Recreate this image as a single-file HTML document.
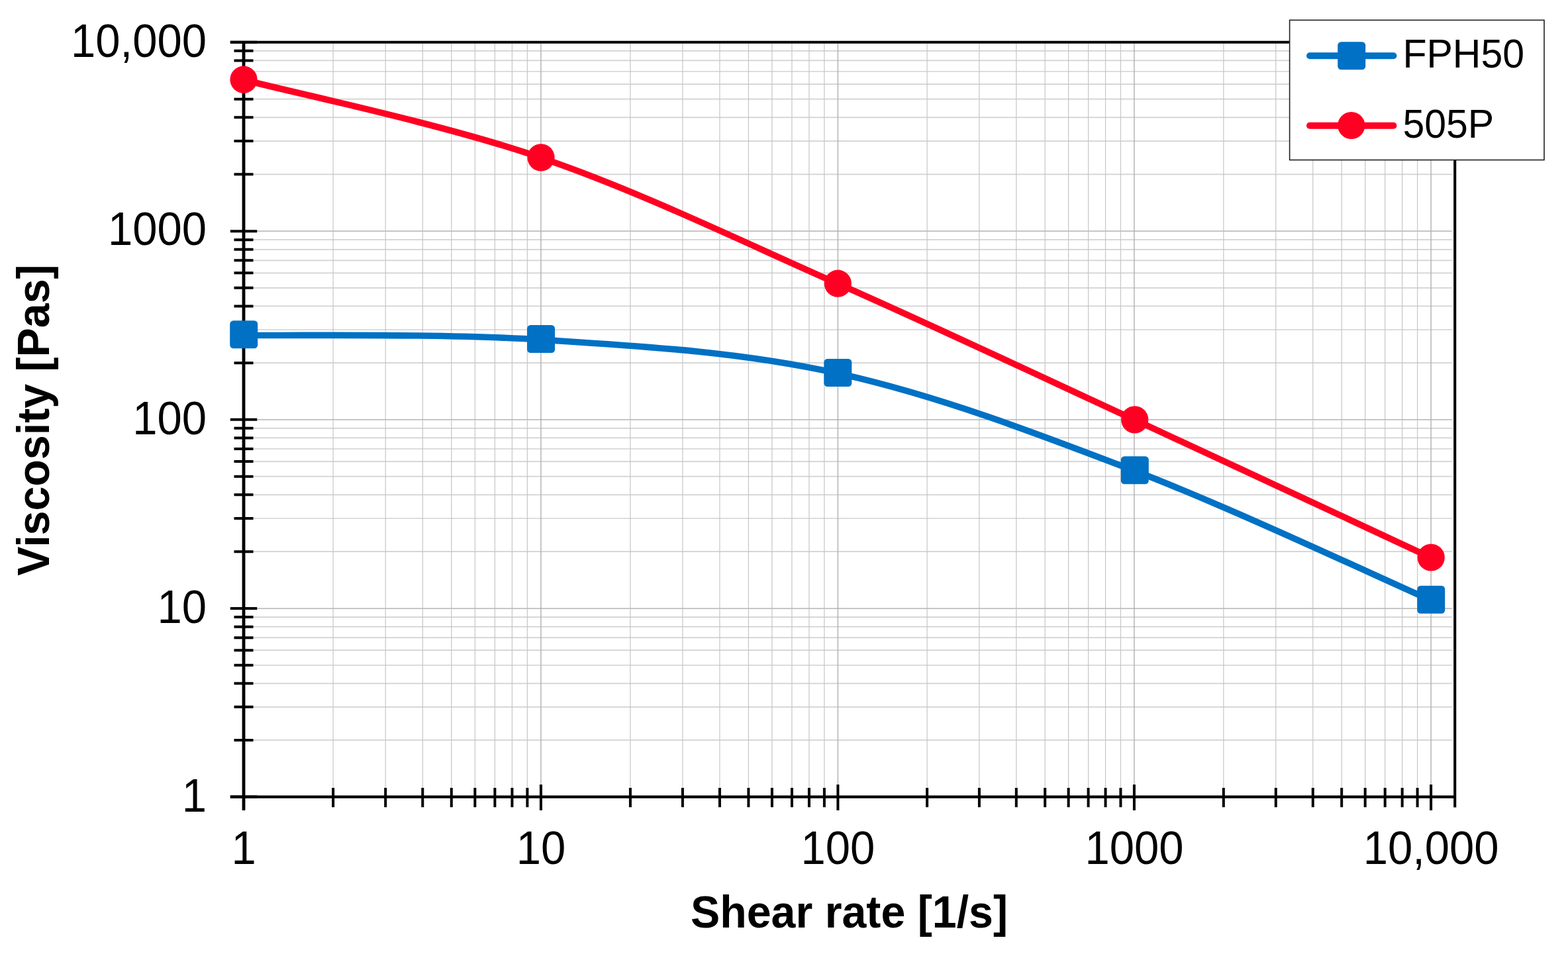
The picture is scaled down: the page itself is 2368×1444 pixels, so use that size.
<!DOCTYPE html>
<html lang="en"><head><meta charset="utf-8"><title>Viscosity vs shear rate</title>
<style>
html,body{margin:0;padding:0;background:#fff;}
body{width:2368px;height:1444px;overflow:hidden;}
svg{display:block;}
text{font-family:"Liberation Sans",sans-serif;fill:#000;}
.tl{font-size:67px;}
.ti{font-size:66.3px;font-weight:bold;}
.lg{font-size:59px;}
</style></head><body>
<svg width="2368" height="1444" viewBox="0 0 2368 1444">
<rect x="0" y="0" width="2368" height="1444" fill="#ffffff"/>
<g fill="none">
<path d="M368.00 1117.96H2192.70M368.00 1067.86H2192.70M368.00 1032.31H2192.70M368.00 1004.74H2192.70M368.00 982.22H2192.70M368.00 963.17H2192.70M368.00 946.67H2192.70M368.00 932.12H2192.70M368.00 833.22H2192.70M368.00 782.98H2192.70M368.00 747.33H2192.70M368.00 719.68H2192.70M368.00 697.09H2192.70M368.00 677.99H2192.70M368.00 661.45H2192.70M368.00 646.85H2192.70M368.00 548.13H2192.70M368.00 498.01H2192.70M368.00 462.45H2192.70M368.00 434.87H2192.70M368.00 412.34H2192.70M368.00 393.29H2192.70M368.00 376.78H2192.70M368.00 362.22H2192.70M368.00 263.29H2192.70M368.00 213.03H2192.70M368.00 177.37H2192.70M368.00 149.71H2192.70M368.00 127.12H2192.70M368.00 108.01H2192.70M368.00 91.46H2192.70M368.00 76.86H2192.70" stroke="#d2d2d2" stroke-width="1.7"/>
<path d="M503.13 63.80V1203.60M582.18 63.80V1203.60M638.26 63.80V1203.60M681.77 63.80V1203.60M717.31 63.80V1203.60M747.36 63.80V1203.60M773.40 63.80V1203.60M796.36 63.80V1203.60M951.91 63.80V1203.60M1030.89 63.80V1203.60M1086.92 63.80V1203.60M1130.39 63.80V1203.60M1165.90 63.80V1203.60M1195.93 63.80V1203.60M1221.94 63.80V1203.60M1244.88 63.80V1203.60M1400.11 63.80V1203.60M1478.91 63.80V1203.60M1534.82 63.80V1203.60M1578.19 63.80V1203.60M1613.62 63.80V1203.60M1643.58 63.80V1203.60M1669.53 63.80V1203.60M1692.42 63.80V1203.60M1847.82 63.80V1203.60M1926.75 63.80V1203.60M1982.74 63.80V1203.60M2026.18 63.80V1203.60M2061.67 63.80V1203.60M2091.67 63.80V1203.60M2117.66 63.80V1203.60M2140.59 63.80V1203.60" stroke="#c6c6c6" stroke-width="1.2"/>
<path d="M368.00 919.10H2192.70M368.00 633.80H2192.70M368.00 349.20H2192.70" stroke="#bebebe" stroke-width="1.7"/>
<path d="M816.90 63.80V1203.60M1265.40 63.80V1203.60M1712.90 63.80V1203.60M2161.10 63.80V1203.60" stroke="#b0b0b0" stroke-width="1.4"/>
</g>
<path d="M347.80 1203.60H388.20M368.00 1185.00V1224.00M353.50 1117.96H382.50M503.13 1189.90V1219.30M353.50 1067.86H382.50M582.18 1189.90V1219.30M353.50 1032.31H382.50M638.26 1189.90V1219.30M353.50 1004.74H382.50M681.77 1189.90V1219.30M353.50 982.22H382.50M717.31 1189.90V1219.30M353.50 963.17H382.50M747.36 1189.90V1219.30M353.50 946.67H382.50M773.40 1189.90V1219.30M353.50 932.12H382.50M796.36 1189.90V1219.30M347.80 919.10H388.20M816.90 1185.00V1224.00M353.50 833.22H382.50M951.91 1189.90V1219.30M353.50 782.98H382.50M1030.89 1189.90V1219.30M353.50 747.33H382.50M1086.92 1189.90V1219.30M353.50 719.68H382.50M1130.39 1189.90V1219.30M353.50 697.09H382.50M1165.90 1189.90V1219.30M353.50 677.99H382.50M1195.93 1189.90V1219.30M353.50 661.45H382.50M1221.94 1189.90V1219.30M353.50 646.85H382.50M1244.88 1189.90V1219.30M347.80 633.80H388.20M1265.40 1185.00V1224.00M353.50 548.13H382.50M1400.11 1189.90V1219.30M353.50 498.01H382.50M1478.91 1189.90V1219.30M353.50 462.45H382.50M1534.82 1189.90V1219.30M353.50 434.87H382.50M1578.19 1189.90V1219.30M353.50 412.34H382.50M1613.62 1189.90V1219.30M353.50 393.29H382.50M1643.58 1189.90V1219.30M353.50 376.78H382.50M1669.53 1189.90V1219.30M353.50 362.22H382.50M1692.42 1189.90V1219.30M347.80 349.20H388.20M1712.90 1185.00V1224.00M353.50 263.29H382.50M1847.82 1189.90V1219.30M353.50 213.03H382.50M1926.75 1189.90V1219.30M353.50 177.37H382.50M1982.74 1189.90V1219.30M353.50 149.71H382.50M2026.18 1189.90V1219.30M353.50 127.12H382.50M2061.67 1189.90V1219.30M353.50 108.01H382.50M2091.67 1189.90V1219.30M353.50 91.46H382.50M2117.66 1189.90V1219.30M353.50 76.86H382.50M2140.59 1189.90V1219.30M347.80 63.80H388.20M2161.10 1185.00V1224.00" fill="none" stroke="#000" stroke-width="4"/>
<path d="M368.00 63.80V1223.80" fill="none" stroke="#000" stroke-width="4.8"/>
<path d="M347.80 1203.60H2197.20M347.80 63.80H2199.25M2197.20 63.80V1219.60" fill="none" stroke="#000" stroke-width="4.1"/>
<path d="M368.20 506.20 C443.00 507.35 667.48 503.48 817.00 513.10 C966.52 522.72 1115.83 530.87 1265.30 563.90 C1414.77 596.93 1564.48 654.15 1713.80 711.30 C1863.12 768.45 2086.63 874.22 2161.20 906.80" fill="none" stroke="#0071c4" stroke-width="9.6" stroke-linecap="round" stroke-linejoin="round"/>
<rect x="347.20" y="484.20" width="42" height="42" rx="5.2" ry="5.2" fill="#0071c4"/>
<rect x="796.00" y="491.10" width="42" height="42" rx="5.2" ry="5.2" fill="#0071c4"/>
<rect x="1244.30" y="541.90" width="42" height="42" rx="5.2" ry="5.2" fill="#0071c4"/>
<rect x="1692.80" y="689.30" width="42" height="42" rx="5.2" ry="5.2" fill="#0071c4"/>
<rect x="2140.20" y="884.80" width="42" height="42" rx="5.2" ry="5.2" fill="#0071c4"/>
<path d="M368.00 120.50 C442.83 140.12 667.45 186.87 817.00 238.20 C966.55 289.53 1115.85 362.50 1265.30 428.50 C1414.75 494.50 1564.38 565.23 1713.70 634.20 C1863.02 703.17 2086.62 807.62 2161.20 842.30" fill="none" stroke="#ff0022" stroke-width="9.6" stroke-linecap="round" stroke-linejoin="round"/>
<circle cx="368.00" cy="120.20" r="20.6" fill="#ff0022"/>
<circle cx="817.00" cy="237.90" r="20.6" fill="#ff0022"/>
<circle cx="1265.30" cy="428.20" r="20.6" fill="#ff0022"/>
<circle cx="1713.70" cy="633.90" r="20.6" fill="#ff0022"/>
<circle cx="2161.20" cy="842.00" r="20.6" fill="#ff0022"/>
<rect x="1947.6" y="30.4" width="384.4" height="211.2" fill="#fff" stroke="#202020" stroke-width="1.6"/>
<path d="M1978 84.2H2104.4" stroke="#0071c4" stroke-width="10" stroke-linecap="round" fill="none"/>
<rect x="2020.2" y="63.2" width="42" height="42" rx="5.2" ry="5.2" fill="#0071c4"/>
<text class="lg" transform="translate(2118.4 102.3) scale(1 1.04)">FPH50</text>
<path d="M1978 189.8H2104.4" stroke="#ff0022" stroke-width="10" stroke-linecap="round" fill="none"/>
<circle cx="2040.8" cy="189.5" r="20.6" fill="#ff0022"/>
<text class="lg" transform="translate(2118.4 207.9) scale(1 1.04)">505P</text>
<text class="tl" transform="translate(312 85.9) scale(1 1.04)" text-anchor="end">10,000</text>
<text class="tl" transform="translate(312 369.6) scale(1 1.04)" text-anchor="end">1000</text>
<text class="tl" transform="translate(312 656.1) scale(1 1.04)" text-anchor="end">100</text>
<text class="tl" transform="translate(312 941.1) scale(1 1.04)" text-anchor="end">10</text>
<text class="tl" transform="translate(312 1226.1) scale(1 1.04)" text-anchor="end">1</text>
<text class="tl" transform="translate(368.0 1305.1) scale(1 1.04)" text-anchor="middle">1</text>
<text class="tl" transform="translate(816.9 1305.1) scale(1 1.04)" text-anchor="middle">10</text>
<text class="tl" transform="translate(1265.4 1305.1) scale(1 1.04)" text-anchor="middle">100</text>
<text class="tl" transform="translate(1712.9 1305.1) scale(1 1.04)" text-anchor="middle">1000</text>
<text class="tl" transform="translate(2161.1 1305.1) scale(1 1.04)" text-anchor="middle">10,000</text>
<text class="ti" transform="translate(1282.5 1401) scale(1 1.025)" text-anchor="middle">Shear rate [1/s]</text>
<text class="ti" transform="translate(74.3 634.6) rotate(-90) scale(1 1.025)" text-anchor="middle">Viscosity [Pas]</text>
</svg>
</body></html>
